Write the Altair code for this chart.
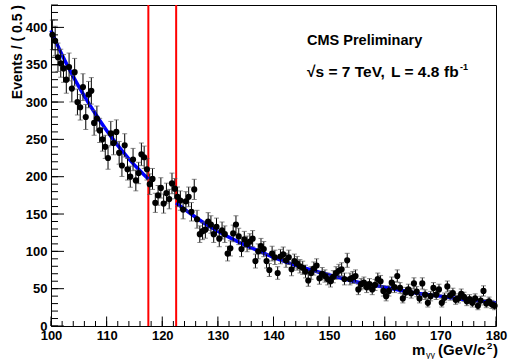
import altair as alt
import numpy as np
import pandas as pd

# ---- data ----
mass = np.arange(100.25, 180.0, 0.5)  # bin centres, 0.5 GeV bins
events = [
    390, 382, 360, 352, 345, 330, 347, 318, 340, 300,
    293, 320, 280, 310, 315, 272, 278, 262, 250, 240,
    225, 258, 245, 260, 232, 215, 242, 210, 200, 223,
    195, 205, 230, 226, 210,
    190, 197, 165, 175, 185, 164, 178, 170, 191, 184,
    173, 168, 156, 167, 173, 153, 183, 143, 123, 127,
    129, 140, 136, 123, 133, 117, 128, 123, 97, 104,
    124, 136, 120, 103, 116, 110, 113, 117, 87, 100,
    107, 103, 87, 75, 97, 92, 71,
    93, 96, 88, 92, 76, 87, 84, 80, 78, 73,
    61, 71, 77, 81, 64, 70, 67, 63, 60, 66,
    71, 74, 76, 63, 88, 63, 65, 67, 49, 56,
    58, 52, 56, 49, 55, 63, 60, 47, 40, 47,
    58, 52, 67, 51, 37, 45, 49, 44, 57, 46,
    37, 57, 42, 31, 40, 51, 42, 49, 31, 38,
    53, 41, 44, 35, 37, 43, 39, 33, 36, 31,
    37, 27, 34, 47, 30, 33, 29, 27,
]

fit_low_x = [100, 102, 104, 106, 108, 110, 112, 114, 116, 117.5]
fit_low_y = [396, 363, 334, 308, 284, 262, 242, 224, 208, 197]
fit_high_x = [122.5, 125, 127.5, 130, 132.5, 135, 137.5, 140, 145, 150,
              155, 160, 165, 170, 175, 180]
fit_high_y = [165, 151, 138, 127, 117, 108, 100, 92, 79, 68.5,
              59, 52, 45, 40, 35, 31]

window_edges = [117.5, 122.5]

x_major = [100, 110, 120, 130, 140, 150, 160, 170, 180]
x_minor = list(range(100, 181, 2))
y_major = [0, 50, 100, 150, 200, 250, 300, 350, 400]
y_minor = list(range(0, 431, 10))

W, H = 445, 321
FONT = "Liberation Sans"

xs = alt.Scale(domain=[100, 180], nice=False, zero=False)
ys = alt.Scale(domain=[0, 430], nice=False, zero=True)

X_AX = alt.Axis(values=x_major, ticks=False, domain=False, grid=False,
                labelFont=FONT, labelFontWeight="bold", labelFontSize=13,
                labelColor="black", labelPadding=3, labelFlush=False,
                labelOverlap=False, title=None, format="d")
Y_AX = alt.Axis(values=y_major, ticks=False, domain=False, grid=False,
                labelFont=FONT, labelFontWeight="bold", labelFontSize=13,
                labelColor="black", labelPadding=4, labelOverlap=False,
                labelFlush=False, title=None, format="d")

df = pd.DataFrame({"m": mass, "n": events})
base = alt.Chart(df).transform_calculate(
    lo="datum.n - sqrt(datum.n)", hi="datum.n + sqrt(datum.n)"
)

err = base.mark_rule(color="black", strokeWidth=1).encode(
    x=alt.X("m:Q", scale=xs, axis=X_AX),
    y=alt.Y("lo:Q", scale=ys, axis=Y_AX),
    y2="hi:Q",
)
cap_hi = base.mark_tick(orient="horizontal", size=5, thickness=1, color="#555555").encode(
    x=alt.X("m:Q", scale=xs, axis=X_AX), y=alt.Y("hi:Q", scale=ys, axis=Y_AX)
)
cap_lo = base.mark_tick(orient="horizontal", size=5, thickness=1, color="#555555").encode(
    x=alt.X("m:Q", scale=xs, axis=X_AX), y=alt.Y("lo:Q", scale=ys, axis=Y_AX)
)
pts = base.mark_circle(size=38, color="black", opacity=1).encode(
    x=alt.X("m:Q", scale=xs, axis=X_AX), y=alt.Y("n:Q", scale=ys, axis=Y_AX)
)

fit_df = pd.DataFrame({
    "m": fit_low_x + fit_high_x,
    "f": fit_low_y + fit_high_y,
    "seg": ["low"] * len(fit_low_x) + ["high"] * len(fit_high_x),
})
fit = alt.Chart(fit_df).mark_line(color="#0000ff", strokeWidth=3.5, interpolate="monotone").encode(
    x=alt.X("m:Q", scale=xs, axis=X_AX), y=alt.Y("f:Q", scale=ys, axis=Y_AX), detail="seg:N"
)

win = alt.Chart(pd.DataFrame({"m": window_edges})).mark_rule(color="#ff0000", strokeWidth=2).encode(
    x=alt.X("m:Q", scale=xs, axis=X_AX), y=alt.value(0), y2=alt.value(H)
)

# inward ticks (ROOT style)
xt_major = alt.Chart(pd.DataFrame({"t": x_major})).mark_rule(color="black", strokeWidth=1).encode(
    x=alt.X("t:Q", scale=xs, axis=X_AX), y=alt.value(H), y2=alt.value(H - 9.5)
)
xt_minor = alt.Chart(pd.DataFrame({"t": x_minor})).mark_rule(color="black", strokeWidth=1).encode(
    x=alt.X("t:Q", scale=xs, axis=X_AX), y=alt.value(H), y2=alt.value(H - 5)
)
yt_major = alt.Chart(pd.DataFrame({"t": y_major})).mark_rule(color="black", strokeWidth=1).encode(
    y=alt.Y("t:Q", scale=ys, axis=Y_AX), x=alt.value(0), x2=alt.value(13)
)
yt_minor = alt.Chart(pd.DataFrame({"t": y_minor})).mark_rule(color="black", strokeWidth=1).encode(
    y=alt.Y("t:Q", scale=ys, axis=Y_AX), x=alt.value(0), x2=alt.value(7)
)

one = pd.DataFrame({"k": [0]})


def label(text, x, y, size, align="left", baseline="alphabetic", angle=0, weight="bold"):
    return alt.Chart(one).mark_text(
        text=text, font=FONT, fontSize=size, fontWeight=weight, color="black",
        align=align, baseline=baseline, angle=angle,
    ).encode(x=alt.value(x), y=alt.value(y))


texts = [
    label("Events / ( 0.5 )", -33, 0, 14, align="right", baseline="middle", angle=270),
    label("CMS Preliminary", 256, 40, 14.5),
    label("\u221as = 7 TeV,", 256, 72, 15.5),
    label("L = 4.8", 340, 72, 15.5),
    label("fb", 393, 72, 15.5),
    label("-1", 409, 65, 9),
    label("m", 361, 350, 15),
    label("\u03b3\u03b3", 375, 353, 9, weight="normal"),
    label("(GeV/c", 387, 350, 15),
    label("2", 436, 344, 9.5),
    label(")", 442, 350, 15),
]

chart = alt.layer(
    win, fit, err, cap_hi, cap_lo, pts,
    xt_minor, xt_major, yt_minor, yt_major,
    *texts,
).properties(
    width=W, height=H,
    autosize=alt.AutoSizeParams(type="none"),
    padding={"left": 51, "top": 5, "right": 13, "bottom": 33},
    background="white",
).configure_view(stroke="black", strokeWidth=1)

chart.save("out.html", embed_options={"renderer": "svg", "actions": False})
